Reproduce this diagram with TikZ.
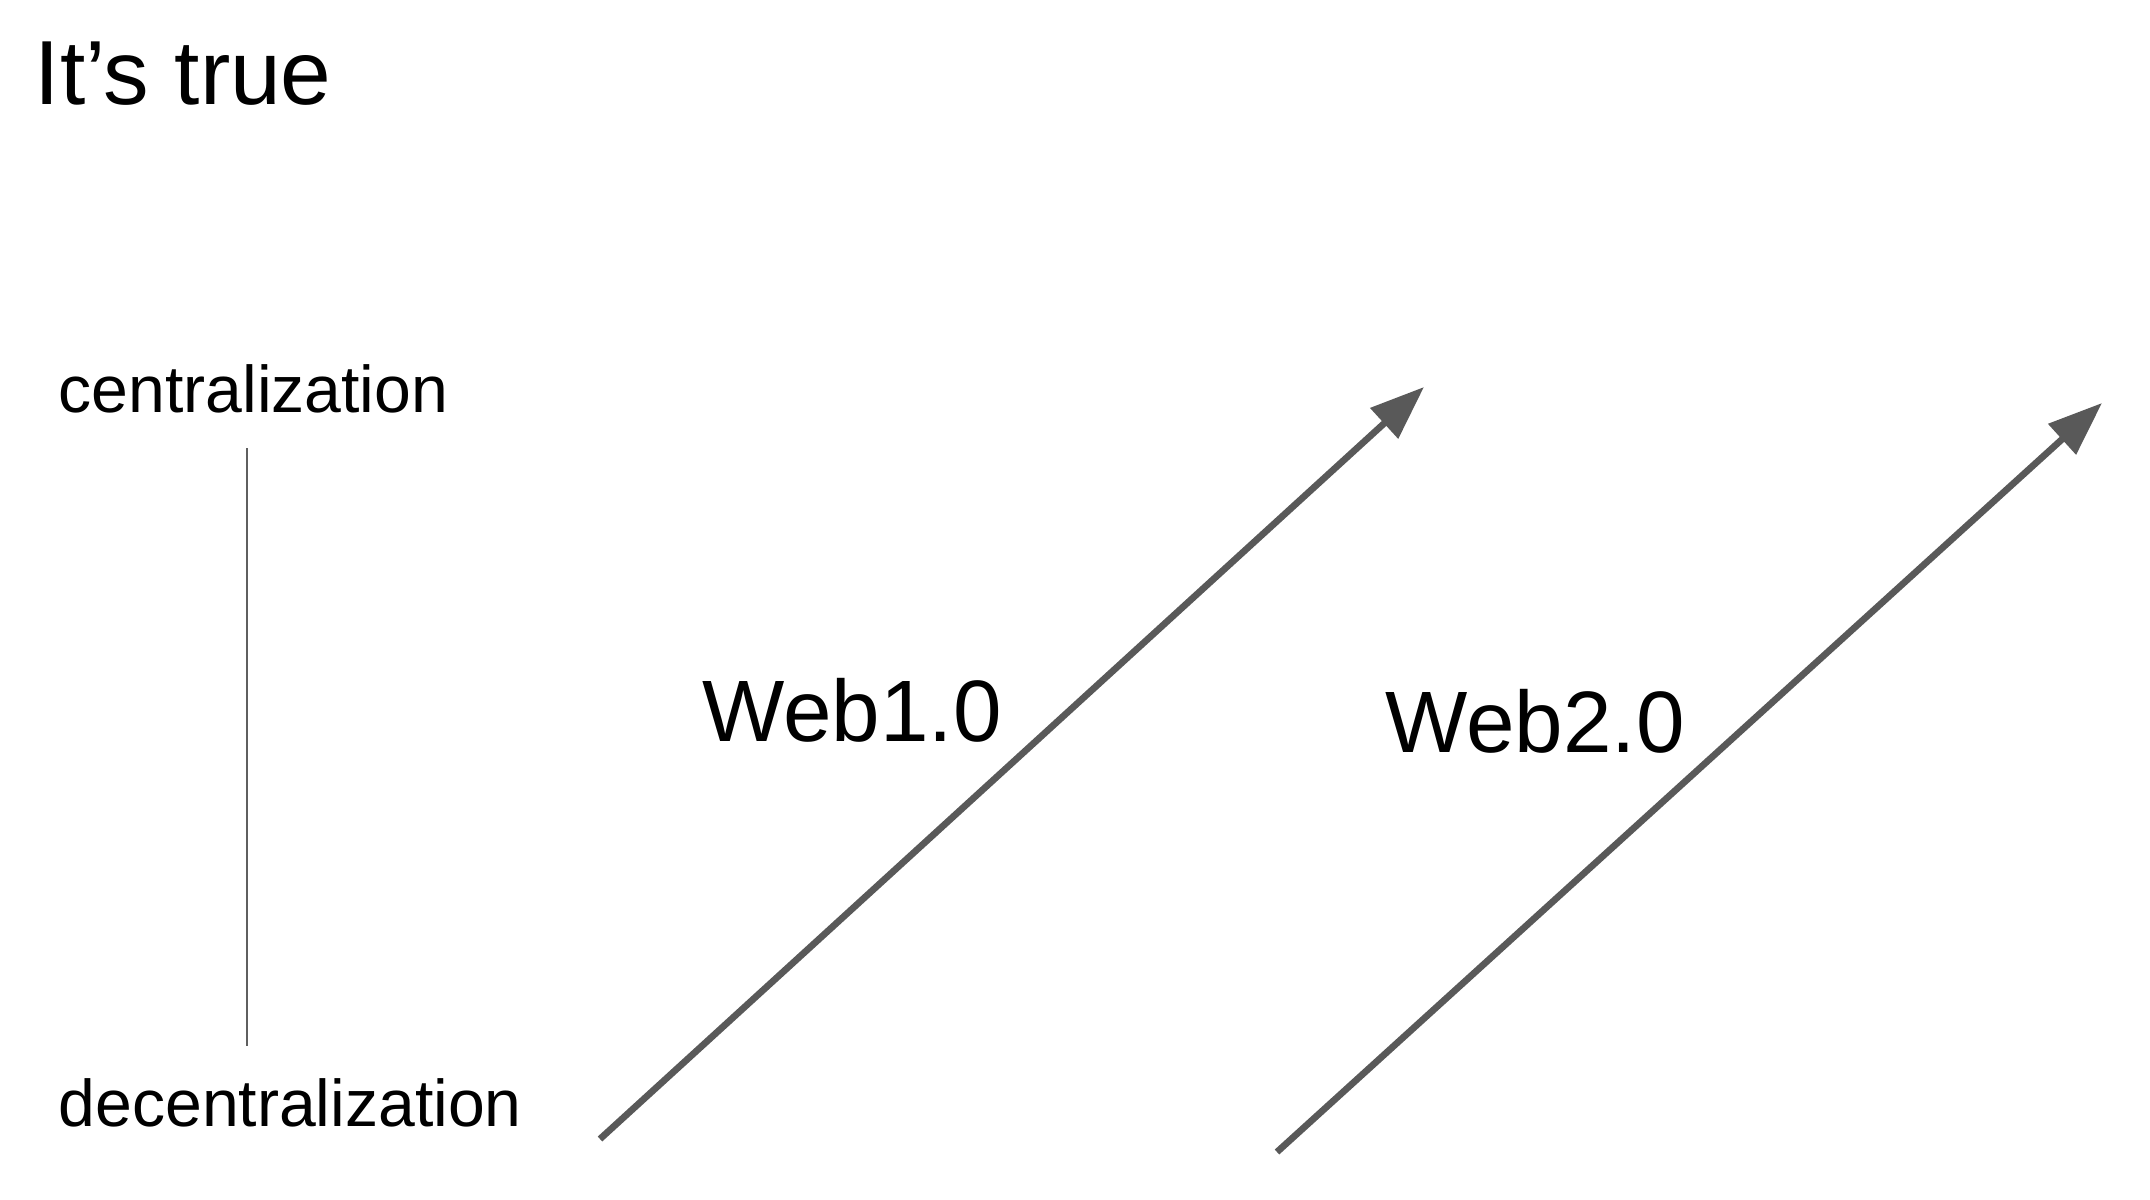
\documentclass[tikz,border=0pt]{standalone}
\usepackage{fontspec}
\setmainfont{Liberation Sans}
\usepackage{xcolor}
\usetikzlibrary{arrows.meta}
\definecolor{ink}{HTML}{000000}
\definecolor{arrowgray}{HTML}{595959}
\definecolor{axisgray}{HTML}{5F5F5F}
\tikzset{
  axis/.style={draw=axisgray, line width=0.6pt},
  trend/.style={draw=arrowgray, line width=1.9pt, -{Triangle[length=0.54cm, width=0.40cm]}},
  lab/.style={text=ink, anchor=base west, inner sep=0pt, font=\fontsize{18.8pt}{22pt}\selectfont},
  labbig/.style={lab, font=\fontsize{24.8pt}{29pt}\selectfont},
  headline/.style={lab, font=\fontsize{25.9pt}{31pt}\selectfont}
}
\begin{document}
\begin{tikzpicture}[x=0.01cm, y=-0.01cm]
  \useasboundingbox (0,0) rectangle (2150,1200);

  \node[headline] (title) at (34,104) {It’s true};

  % axis
  \node[lab] (cent) at (58,412) {centralization};
  \node[lab] (decent) at (58,1126) {decentralization};
  \coordinate (axtop) at (247,448);
  \coordinate (axbot) at (247,1046);
  \draw[axis] (axtop) -- (axbot);

  % the two trends
  \coordinate (w1tail) at (600,1139);
  \coordinate (w1tip) at (1424,387);
  \coordinate (w2tail) at (1277,1152);
  \coordinate (w2tip) at (2102,403);
  \draw[trend] (w1tail) -- (w1tip);
  \draw[trend] (w2tail) -- (w2tip);

  \node[labbig] (web1) at (702,741) {Web1.0};
  \node[labbig] (web2) at (1385,752) {Web2.0};
\end{tikzpicture}
\end{document}
